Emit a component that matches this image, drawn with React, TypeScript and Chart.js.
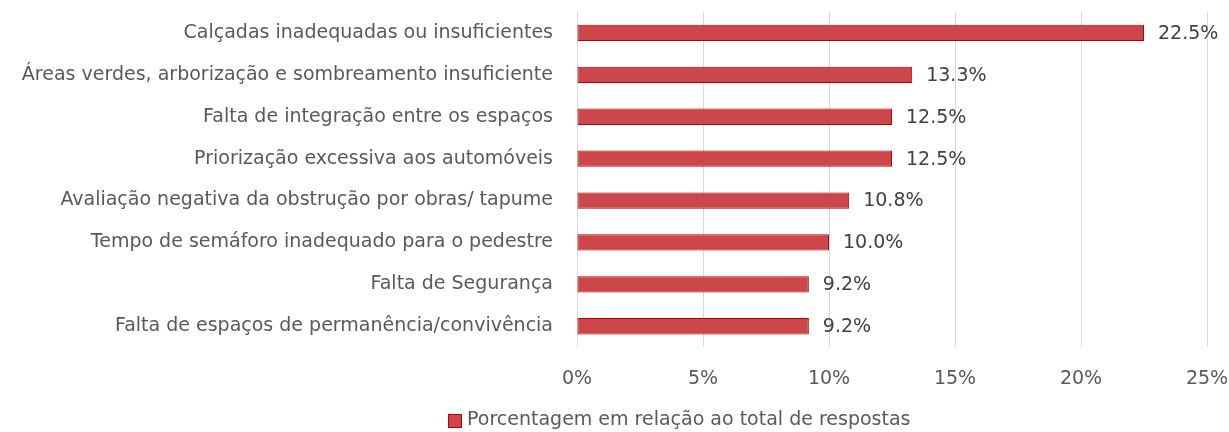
import React, { useEffect, useRef } from "react";
import { Chart, registerables } from "chart.js";

Chart.register(...registerables);

const categories = [
  "Calçadas inadequadas ou insuficientes",
  "Áreas verdes, arborização e sombreamento insuficiente",
  "Falta de integração entre os espaços",
  "Priorização excessiva aos automóveis",
  "Avaliação negativa da obstrução por obras/ tapume",
  "Tempo de semáforo inadequado para o pedestre",
  "Falta de Segurança",
  "Falta de espaços de permanência/convivência",
];

const values = [22.5, 13.3, 12.5, 12.5, 10.8, 10.0, 9.2, 9.2];
const seriesLabel = "Porcentagem em relação ao total de respostas";
const xTicks = [0, 5, 10, 15, 20, 25];

const FONT = "'DejaVu Sans', sans-serif";
const FSIZE = 19;
const TEXT = "#595959";
const FILL = "#CB474A";
const BORDER = "#C00000";

const dataLabelPlugin = {
  id: "dataLabels",
  afterDatasetsDraw(chart: any) {
    const ctx = chart.ctx;
    const meta = chart.getDatasetMeta(0);
    ctx.save();
    ctx.font = `${FSIZE}px ${FONT}`;
    ctx.fillStyle = "#404040";
    ctx.textAlign = "left";
    ctx.textBaseline = "middle";
    meta.data.forEach((bar: any, i: number) => {
      const v = chart.data.datasets[0].data[i];
      ctx.fillText(v.toFixed(1) + "%", bar.x + 14, bar.y + 1);
    });
    ctx.restore();
  },
};

const legendPlugin = {
  id: "customLegend",
  afterDraw(chart: any) {
    const ctx = chart.ctx;
    ctx.save();
    ctx.font = `${FSIZE}px ${FONT}`;
    const text = chart.data.datasets[0].label;
    const box = 14;
    const x0 = 448;
    const y = 420;
    ctx.fillStyle = FILL;
    ctx.fillRect(x0, y - box / 2 + 1, box, box);
    ctx.strokeStyle = BORDER;
    ctx.lineWidth = 1;
    ctx.strokeRect(x0 + 0.5, y - box / 2 + 1.5, box - 1, box - 1);
    ctx.fillStyle = TEXT;
    ctx.textAlign = "left";
    ctx.textBaseline = "middle";
    ctx.fillText(text, x0 + box + 5, y);
    ctx.restore();
  },
};

export default function App() {
  const ref = useRef<HTMLCanvasElement>(null);
  useEffect(() => {
    document.body.style.margin = "0";
    const chart = new Chart(ref.current!, {
      type: "bar",
      data: {
        labels: categories,
        datasets: [
          {
            label: seriesLabel,
            data: values,
            backgroundColor: FILL,
            borderColor: BORDER,
            borderWidth: 1,
            borderSkipped: false,
            barPercentage: 0.39,
            categoryPercentage: 1,
          },
        ],
      },
      options: {
        indexAxis: "y",
        animation: false,
        responsive: false,
        layout: { padding: { top: 12, right: 22, bottom: 22, left: 0 } },
        plugins: { legend: { display: false }, tooltip: { enabled: false } },
        scales: {
          x: {
            min: 0,
            max: 25,
            afterBuildTicks(scale: any) {
              scale.ticks = xTicks.map((v) => ({ value: v }));
            },
            afterFit(scale: any) {
              scale.paddingLeft = 0;
              scale.paddingRight = 0;
            },
            ticks: {
              callback: (v: any) => v + "%",
              color: TEXT,
              font: { family: FONT, size: FSIZE },
              padding: 20,
            },
            grid: { color: "#D9D9D9", drawTicks: false },
            border: { display: false },
          },
          y: {
            afterFit(scale: any) {
              scale.width = 577;
              scale.paddingTop = 0;
              scale.paddingBottom = 0;
            },
            ticks: {
              color: TEXT,
              font: { family: FONT, size: FSIZE },
              padding: 24,
            },
            grid: { display: false, drawTicks: false },
            border: { display: false },
          },
        },
      },
      plugins: [dataLabelPlugin, legendPlugin],
    });
    return () => chart.destroy();
  }, []);
  return <canvas ref={ref} width={1229} height={432} style={{ display: "block" }} />;
}
